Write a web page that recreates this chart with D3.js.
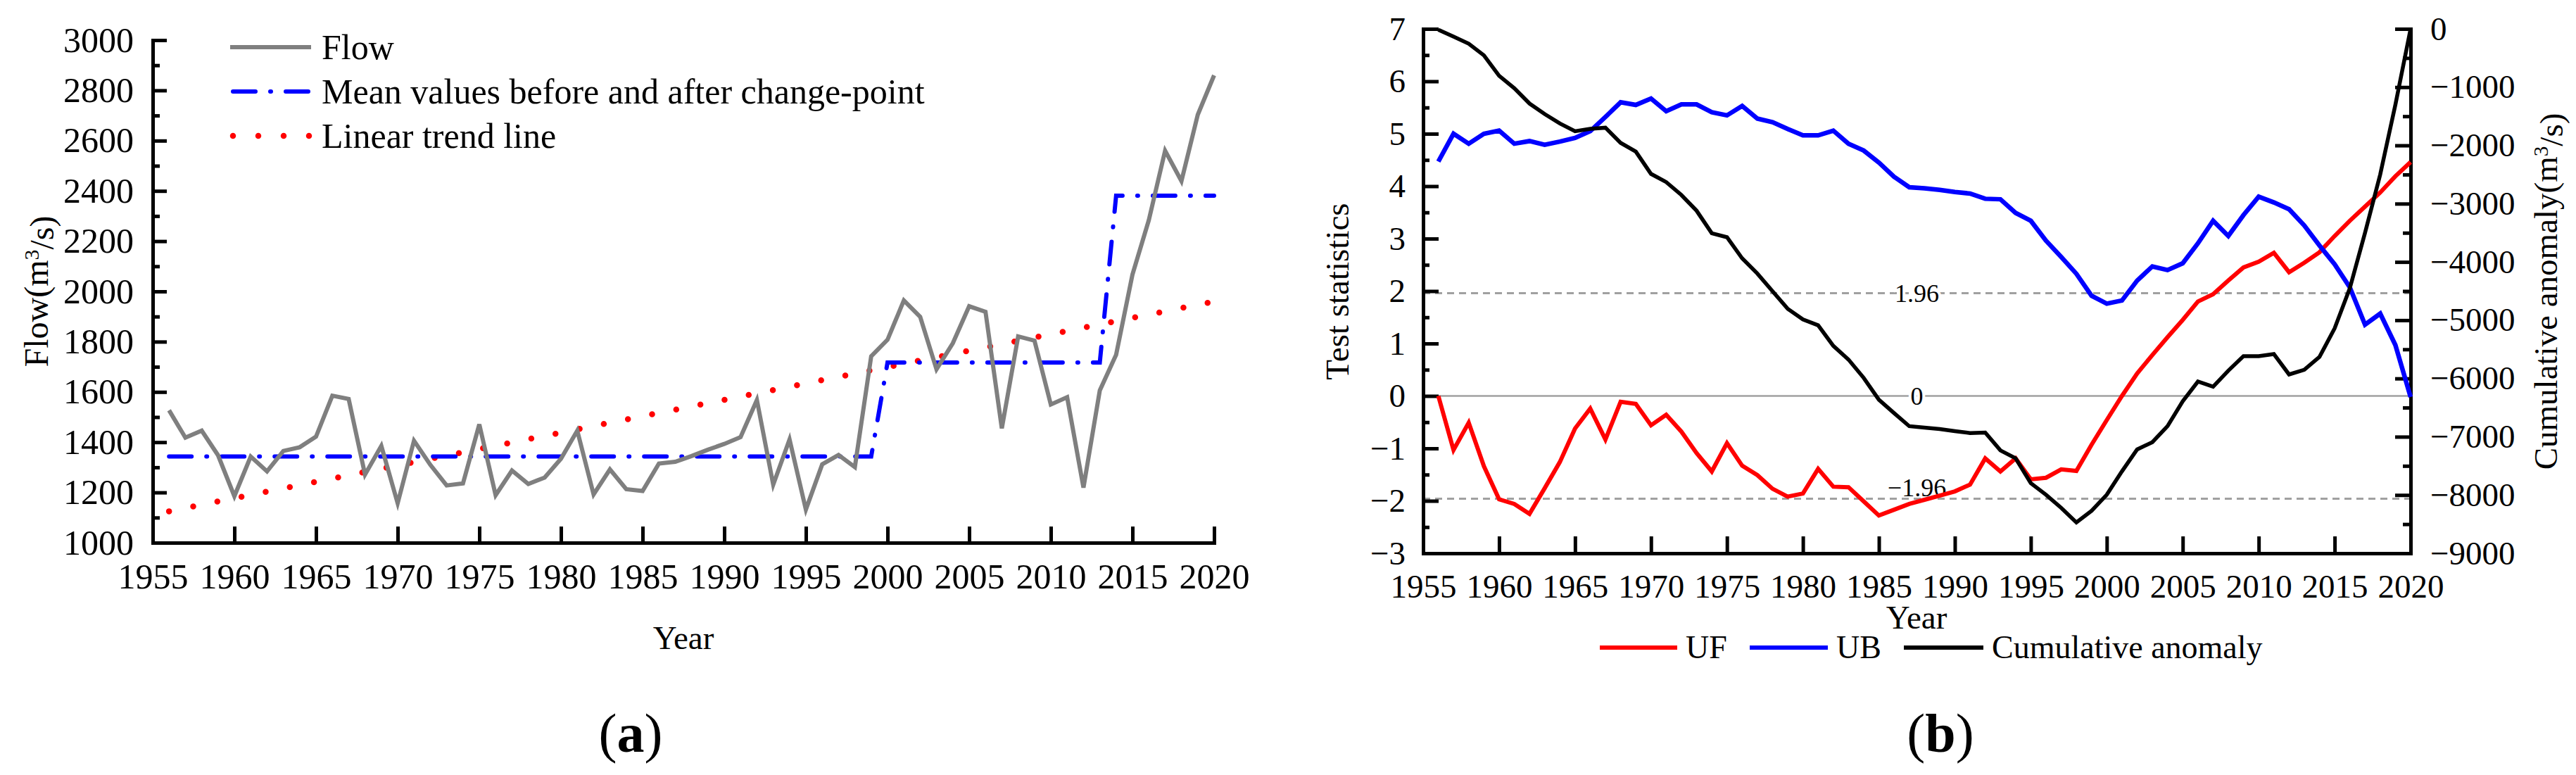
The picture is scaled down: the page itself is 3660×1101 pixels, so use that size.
<!DOCTYPE html>
<html>
<head>
<meta charset="utf-8">
<script src="https://cdn.jsdelivr.net/npm/d3@7"></script>
<style>
body { margin: 0; background: #fff; }
svg text { font-family: "Liberation Serif", "Times New Roman", serif; fill: #000; }
</style>
</head>
<body>
<svg id="chart" width="3660" height="1101"></svg>
<script>
// ---------- data ----------
var years = d3.range(1956, 2021);

// (a) annual flow, m3/s
var flow = [1527, 1418, 1446, 1348, 1185, 1343, 1284, 1365, 1380, 1422,
            1585, 1572, 1271, 1385, 1157, 1406, 1310, 1228, 1236, 1471,
            1189, 1287, 1234, 1259, 1334, 1446, 1192, 1292, 1213, 1206,
            1315, 1322, 1345, 1370, 1393, 1420, 1568, 1231, 1411, 1132,
            1312, 1349, 1301, 1742, 1808, 1964, 1899, 1690, 1794, 1941,
            1919, 1455, 1821, 1804, 1550, 1579, 1219, 1606, 1748, 2067,
            2283, 2560, 2439, 2703, 2860];

// mean values before and after the change-points
var meanStart = [1956, 2000, 2014];
var meanEnd   = [1999, 2013, 2020];
var meanValue = [1343, 1717, 2381];

// linear trend end points
var trendYears  = [1956, 2020];
var trendValues = [1125, 1960];

// (b) Mann-Kendall statistics
var uf = [0.00, -1.03, -0.51, -1.34, -1.97, -2.06, -2.25, -1.76, -1.26, -0.62,
          -0.24, -0.83, -0.11, -0.15, -0.56, -0.36, -0.68, -1.09, -1.44, -0.90,
          -1.33, -1.51, -1.77, -1.92, -1.86, -1.39, -1.73, -1.74, -2.01, -2.28,
          -2.17, -2.06, -1.98, -1.90, -1.82, -1.69, -1.19, -1.44, -1.19, -1.59,
          -1.56, -1.40, -1.43, -0.93, -0.46, 0.00, 0.43, 0.78, 1.12, 1.45,
          1.80, 1.94, 2.20, 2.45, 2.56, 2.73, 2.36, 2.54, 2.74, 3.05,
          3.34, 3.61, 3.88, 4.19, 4.46];

var ub = [4.47, 5.00, 4.81, 5.00, 5.06, 4.81, 4.86, 4.79, 4.85, 4.92,
          5.05, 5.32, 5.60, 5.55, 5.67, 5.43, 5.56, 5.56, 5.41, 5.35,
          5.53, 5.29, 5.22, 5.09, 4.97, 4.97, 5.06, 4.81, 4.68, 4.45,
          4.18, 3.98, 3.96, 3.93, 3.89, 3.86, 3.76, 3.75, 3.49, 3.34,
          2.96, 2.65, 2.33, 1.91, 1.76, 1.82, 2.20, 2.47, 2.40, 2.53,
          2.91, 3.34, 3.05, 3.45, 3.80, 3.69, 3.56, 3.25, 2.87, 2.51,
          2.07, 1.36, 1.57, 0.97, -0.02];

// cumulative anomaly, m3/s
var cumAnomaly = [-15, -133, -254, -455, -805, -1019, -1281, -1462, -1623, -1756,
                  -1716, -1696, -1957, -2106, -2489, -2630, -2851, -3121, -3508, -3576,
                  -3939, -4200, -4503, -4805, -4986, -5087, -5441, -5676, -5990, -6365,
                  -6594, -6819, -6844, -6869, -6904, -6937, -6929, -7235, -7369, -7796,
                  -7995, -8220, -8471, -8271, -7995, -7594, -7218, -7093, -6818, -6392,
                  -6052, -6142, -5866, -5616, -5616, -5581, -5931, -5851, -5630, -5140,
                  -4450, -3500, -2500, -1300, 0];

// reference levels in (b)
var refValues = [1.96, 0, -1.96];
var refLabels = ["1.96", "0", "\u22121.96"];

// ticks
var yearTicks = d3.range(1955, 2021, 5);
var flowTicks = d3.range(1000, 3001, 200);
var flowMinor = d3.range(1100, 3000, 200);
var statTicks = d3.range(-3, 8, 1);
var statMinor = d3.range(-2.5, 7, 1);
var cumTicks  = d3.range(-9000, 1, 1000);
var cumMinor  = d3.range(-8500, 0, 1000);

var svg = d3.select("#chart");
var FONT = '"Liberation Serif", "Times New Roman", serif';

function styleAxis(g, size) {
  g.attr("font-family", FONT).attr("font-size", size);
  g.select(".domain").attr("stroke", "#000").attr("stroke-width", 5).attr("stroke-linecap", "square");
  g.selectAll(".tick line").attr("stroke", "#000").attr("stroke-width", 5);
  g.selectAll(".tick text").attr("fill", "#000");
}
function minorAxis(g) {
  g.select(".domain").remove();
  g.selectAll(".tick line").attr("stroke", "#000").attr("stroke-width", 5);
}
function supLabel(sel, main, tail) {
  sel.append("tspan").text(main);
  sel.append("tspan").attr("dy", "-0.45em").attr("font-size", "62%").text("3");
  sel.append("tspan").attr("dy", "0.45em").text(tail);
}

// ================= panel (a) =================
var xA = d3.scaleLinear().domain([1955, 2020]).range([217, 1725]);
var yA = d3.scaleLinear().domain([1000, 3000]).range([771, 57]);
var pa = svg.append("g");

pa.append("g").attr("transform", "translate(217,0)")
  .call(d3.axisLeft(yA).tickValues(flowMinor).tickSize(-10).tickFormat(""))
  .call(minorAxis);
pa.append("g").attr("transform", "translate(217,0)")
  .call(d3.axisLeft(yA).tickValues(flowTicks).tickSize(-20).tickSizeOuter(0).tickPadding(27).tickFormat(d3.format("d")))
  .call(styleAxis, 50);
pa.append("g").attr("transform", "translate(0,771)")
  .call(d3.axisBottom(xA).tickValues(yearTicks).tickSize(-23).tickSizeOuter(0).tickPadding(29).tickFormat(d3.format("d")))
  .call(styleAxis, 50);

var lineA = d3.line().x(function (d) { return xA(d[0]); }).y(function (d) { return yA(d[1]); });

var trendPts = trendYears.map(function (y, i) { return [y, trendValues[i]]; });
pa.append("path").attr("d", lineA(trendPts))
  .attr("fill", "none").attr("stroke", "#ff0000").attr("stroke-width", 8.5)
  .attr("stroke-linecap", "round").attr("stroke-dasharray", "0,35");

var meanPts = [];
meanStart.forEach(function (s, i) { meanPts.push([s, meanValue[i]], [meanEnd[i], meanValue[i]]); });
pa.append("path").attr("d", lineA(meanPts))
  .attr("fill", "none").attr("stroke", "#0000ff").attr("stroke-width", 6)
  .attr("stroke-linecap", "round").attr("stroke-dasharray", "32,21,1,21");

pa.append("path").attr("d", lineA(years.map(function (y, i) { return [y, flow[i]]; })))
  .attr("fill", "none").attr("stroke", "#7f7f7f").attr("stroke-width", 6)
  .attr("stroke-linejoin", "miter");

// legend (a)
var legA = [
  { label: "Flow", y: 67, color: "#7f7f7f", w: 6, dash: null, cap: "butt" },
  { label: "Mean values before and after change-point", y: 130, color: "#0000ff", w: 6, dash: "32,21,1,21", cap: "round" },
  { label: "Linear trend line", y: 193, color: "#ff0000", w: 8.5, dash: "0,36", cap: "round" }
];
legA.forEach(function (d) {
  pa.append("line").attr("x1", d.cap === "round" ? 331 : 327).attr("x2", 442)
    .attr("y1", d.y).attr("y2", d.y)
    .attr("stroke", d.color).attr("stroke-width", d.w)
    .attr("stroke-linecap", d.cap).attr("stroke-dasharray", d.dash);
  pa.append("text").attr("x", 457).attr("y", d.y).attr("dy", "0.33em")
    .attr("font-size", 50).text(d.label);
});

supLabel(pa.append("text").attr("transform", "translate(68,414) rotate(-90)")
  .attr("text-anchor", "middle").attr("font-size", 48), "Flow(m", "/s)");

pa.append("text").attr("x", 971).attr("y", 922).attr("text-anchor", "middle")
  .attr("font-size", 47).text("Year");

var ta = pa.append("text").attr("x", 896).attr("y", 1068).attr("text-anchor", "middle").attr("font-size", 78);
ta.append("tspan").text("(");
ta.append("tspan").attr("font-weight", "bold").text("a");
ta.append("tspan").text(")");

// ================= panel (b) =================
var xB = d3.scaleLinear().domain([1955, 2020]).range([2022, 3425]);
var yL = d3.scaleLinear().domain([-3, 7]).range([786, 41]);
var yR = d3.scaleLinear().domain([-9000, 0]).range([786, 41]);
var pb = svg.append("g");

// reference lines
refValues.forEach(function (v) {
  pb.append("line").attr("x1", xB(1955)).attr("x2", xB(2020))
    .attr("y1", yL(v)).attr("y2", yL(v))
    .attr("stroke", "#a0a0a0").attr("stroke-width", v === 0 ? 2.5 : 3)
    .attr("stroke-dasharray", v === 0 ? null : "10,7");
});

pb.append("g").attr("transform", "translate(2022,0)")
  .call(d3.axisLeft(yL).tickValues(statMinor).tickSize(-9).tickFormat(""))
  .call(minorAxis);
pb.append("g").attr("transform", "translate(2022,0)")
  .call(d3.axisLeft(yL).tickValues(statTicks).tickSize(-22).tickSizeOuter(0).tickPadding(25).tickFormat(d3.format("d")))
  .call(styleAxis, 47);
pb.append("g").attr("transform", "translate(3425,0)")
  .call(d3.axisRight(yR).tickValues(cumMinor).tickSize(-11).tickFormat(""))
  .call(minorAxis);
pb.append("g").attr("transform", "translate(3425,0)")
  .call(d3.axisRight(yR).tickValues(cumTicks).tickSize(-22).tickSizeOuter(0).tickPadding(28).tickFormat(d3.format("d")))
  .call(styleAxis, 47);
pb.append("g").attr("transform", "translate(0,786)")
  .call(d3.axisBottom(xB).tickValues(yearTicks).tickSize(-24).tickSizeOuter(0).tickPadding(30).tickFormat(d3.format("d")))
  .call(styleAxis, 47);

// level labels
refValues.forEach(function (v, i) {
  pb.append("text").attr("x", (xB(1955) + xB(2020)) / 2).attr("y", yL(v))
    .attr("dy", v < 0 ? "-0.1em" : "0.35em").attr("text-anchor", "middle")
    .attr("font-size", 36)
    .attr("stroke", v < 0 ? "none" : "#fff").attr("stroke-width", 8).attr("paint-order", "stroke")
    .text(refLabels[i]);
});

var lineL = d3.line().x(function (d, i) { return xB(years[i]); }).y(function (d) { return yL(d); });
var lineR = d3.line().x(function (d, i) { return xB(years[i]); }).y(function (d) { return yR(d); });

pb.append("path").attr("d", lineL(uf)).attr("fill", "none").attr("stroke", "#ff0000").attr("stroke-width", 6);
pb.append("path").attr("d", lineL(ub)).attr("fill", "none").attr("stroke", "#0000ff").attr("stroke-width", 6.5);
pb.append("path").attr("d", lineR(cumAnomaly)).attr("fill", "none").attr("stroke", "#000").attr("stroke-width", 5.5);

// legend (b)
var legB = [
  { label: "UF", x1: 2273, x2: 2383, color: "#ff0000" },
  { label: "UB", x1: 2486, x2: 2597, color: "#0000ff" },
  { label: "Cumulative anomaly", x1: 2705, x2: 2818, color: "#000" }
];
legB.forEach(function (d) {
  pb.append("line").attr("x1", d.x1).attr("x2", d.x2).attr("y1", 920).attr("y2", 920)
    .attr("stroke", d.color).attr("stroke-width", 6);
  pb.append("text").attr("x", d.x2 + 12).attr("y", 920).attr("dy", "0.33em")
    .attr("font-size", 46).text(d.label);
});

pb.append("text").attr("transform", "translate(1916,414) rotate(-90)")
  .attr("text-anchor", "middle").attr("font-size", 47).text("Test statistics");
supLabel(pb.append("text").attr("transform", "translate(3633,414) rotate(-90)")
  .attr("text-anchor", "middle").attr("font-size", 47), "Cumulative anomaly(m", "/s)");

pb.append("text").attr("x", 2723).attr("y", 893).attr("text-anchor", "middle")
  .attr("font-size", 47).text("Year");

var tb = pb.append("text").attr("x", 2757).attr("y", 1068).attr("text-anchor", "middle").attr("font-size", 78);
tb.append("tspan").text("(");
tb.append("tspan").attr("font-weight", "bold").text("b");
tb.append("tspan").text(")");
</script>
</body>
</html>
